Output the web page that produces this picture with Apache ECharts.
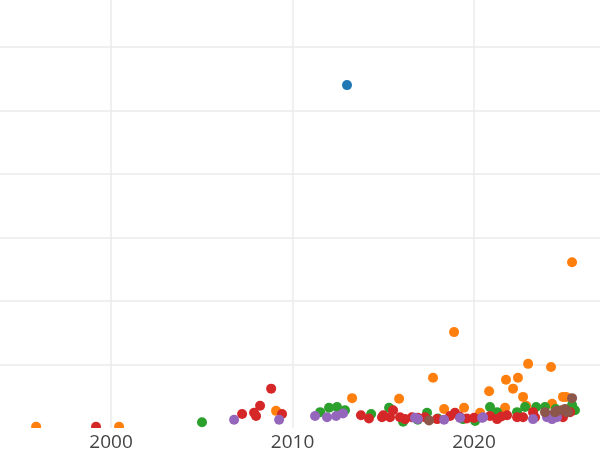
<!DOCTYPE html>
<html><head><meta charset="utf-8">
<script src="https://cdn.jsdelivr.net/npm/echarts@6/dist/echarts.min.js"></script>
<style>html,body{margin:0;padding:0;background:#fff}#c{width:600px;height:450px}</style>
</head><body><div id="c"></div>
<script>
const seriesNames = ['A','B','C','D','E','F'];
const colors = ['#1f77b4','#ff7f0e','#2ca02c','#d62728','#9467bd','#8c564b'];
const xTicks = [2000, 2010, 2020];

const blue = [[2013.0,54.0]];
const orange = [[1995.87,0.2],[2000.44,0.2],[2009.09,2.7],[2013.28,4.7],[2015.87,4.6],[2017.74,7.9],[2018.90,15.1],[2018.35,3.0],[2019.45,3.2],[2020.33,2.4],[2020.83,5.8],[2021.71,3.2],[2021.76,7.6],[2022.15,6.2],[2022.42,7.9],[2022.70,4.9],[2022.87,3.5],[2022.98,10.1],[2024.24,9.6],[2024.30,3.8],[2024.90,4.9],[2025.07,4.9],[2025.40,26.1]];
const green = [[2005.01,0.9],[2011.52,2.5],[2012.01,3.2],[2012.45,3.3],[2012.89,2.8],[2014.33,2.2],[2015.32,3.2],[2016.09,1.0],[2016.9,1.3],[2017.41,2.4],[2018.0,1.5],[2019.39,1.4],[2020.06,1.1],[2020.88,3.3],[2021.27,2.5],[2022.37,2.5],[2022.81,3.3],[2023.42,3.3],[2023.91,3.3],[2024.5,3.0],[2025.4,3.6],[2025.56,2.8]];
const red = [[1999.17,0.2],[2007.22,2.2],[2007.88,2.4],[2007.99,1.9],[2008.21,3.5],[2008.82,6.2],[2009.42,2.2],[2013.77,2.0],[2014.21,1.5],[2014.93,1.7],[2015.0,2.0],[2015.37,1.7],[2015.54,2.8],[2015.92,1.7],[2016.2,1.4],[2016.58,1.7],[2016.9,1.6],[2017.30,1.7],[2017.96,1.4],[2018.68,1.9],[2018.95,2.4],[2019.2,1.8],[2019.6,1.5],[2020.0,1.6],[2020.88,1.9],[2021.27,1.4],[2021.5,1.8],[2021.82,2.0],[2022.37,1.7],[2022.70,1.7],[2023.25,2.5],[2023.36,1.7],[2024.35,2.0],[2024.90,1.7],[2025.29,2.5]];
const purple = [[2006.78,1.3],[2009.26,1.3],[2011.24,1.9],[2011.9,1.7],[2012.40,1.9],[2012.78,2.3],[2016.75,1.6],[2016.91,1.4],[2018.35,1.3],[2019.23,1.6],[2020.44,1.6],[2020.50,1.7],[2023.25,1.4],[2024.02,1.7],[2024.02,2.0],[2024.30,1.4],[2024.57,1.7]];
const brown = [[2017.52,1.2],[2023.91,2.5],[2024.46,2.5],[2024.57,2.7],[2024.85,2.8],[2025.01,3.0],[2025.12,2.5],[2025.18,2.5],[2025.40,4.7]];

const allData = [blue, orange, green, red, purple, brown];

const chart = echarts.init(document.getElementById('c'), null, {renderer:'canvas'});
const gridBottom = 22;
const xMinView = 1993.88, xMaxView = 2026.94;

const option = {
  animation: false,
  backgroundColor: '#fff',
  grid: {left: 0, right: 0, top: 0, bottom: gridBottom, containLabel: false, outerBoundsMode: 'none'},
  xAxis: [{
    type: 'value', min: xMinView, max: xMaxView, z: 0,
    axisLine: {show:false},
    axisTick: {show:false, customValues: xTicks},
    axisLabel: {show:false, customValues: xTicks},
    splitLine: {show:true, showMinLine:true, showMaxLine:true, lineStyle:{color:'#ebebeb', width:1.5}}
  },{
    type: 'value', min: xMinView, max: xMaxView, position:'bottom', z: 10,
    axisLine: {show:false},
    axisTick: {show:false, customValues: xTicks},
    axisLabel: {show:true, customValues: xTicks, formatter: v => String(Math.round(v)),
      fontFamily:'Open Sans', fontSize:19, color:'#444', margin:5},
    splitLine: {show:false}
  }],
  yAxis: {
    type: 'value', min: 0, max: 428/6.35, interval: 10,
    axisLine:{show:false}, axisTick:{show:false}, axisLabel:{show:false},
    splitLine:{show:true, showMinLine:false, showMaxLine:false, lineStyle:{color:'#ebebeb', width:1.5}}
  },
  graphic: [{type:'rect', shape:{x:0, y:450-gridBottom, width:600, height:gridBottom}, style:{fill:'#fff'}, z:5}],
  series: allData.map((d,i)=>({
    name: seriesNames[i], type:'scatter', xAxisIndex:0, data:d, symbolSize:10, z:2,
    itemStyle:{color:colors[i], opacity:1}
  }))
};
chart.setOption(option);
</script></body></html>
